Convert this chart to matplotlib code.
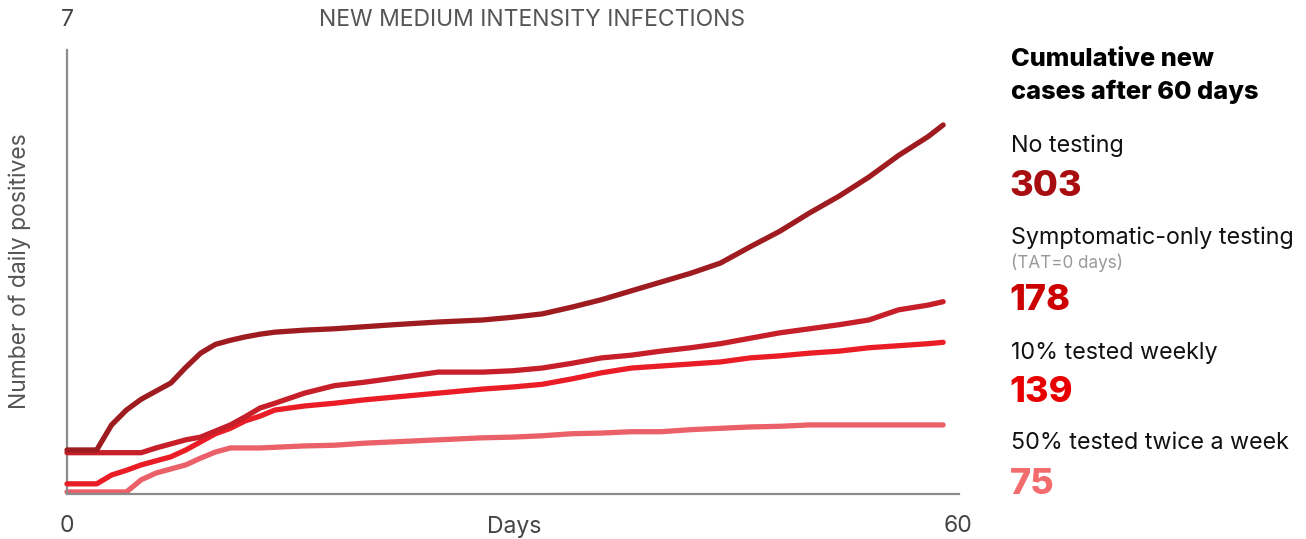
import matplotlib
matplotlib.use("Agg")
import matplotlib.pyplot as plt

plt.rcParams['font.family'] = ['Inter', 'DejaVu Sans']

# Simulated daily positives over 60 days, by testing strategy
days = [0, 2, 3, 4, 5, 6, 7, 8, 9, 10, 11, 12, 13, 14, 16, 18, 20, 22, 25, 28,
        30, 32, 34, 36, 38, 40, 42, 44, 46, 48, 50, 52, 54, 56, 58, 59]

no_testing = [0.65, 0.65, 1.02, 1.24, 1.40, 1.52, 1.64, 1.87, 2.08, 2.21, 2.27, 2.32, 2.36, 2.39,
              2.42, 2.44, 2.47, 2.50, 2.54, 2.57, 2.61, 2.66, 2.76, 2.87, 3.00, 3.13, 3.26, 3.41,
              3.65, 3.88, 4.15, 4.40, 4.68, 5.00, 5.28, 5.45]

symptomatic_only = [0.61, 0.61, 0.61, 0.61, 0.61, 0.68, 0.74, 0.80, 0.84, 0.93, 1.02, 1.14, 1.27,
                    1.34, 1.49, 1.60, 1.65, 1.71, 1.80, 1.80, 1.82, 1.86, 1.93, 2.01, 2.05, 2.11,
                    2.16, 2.22, 2.30, 2.38, 2.44, 2.50, 2.57, 2.72, 2.79, 2.84]

weekly_10pct = [0.15, 0.15, 0.28, 0.35, 0.43, 0.49, 0.55, 0.65, 0.77, 0.89, 0.97, 1.08, 1.15, 1.24,
                1.30, 1.34, 1.39, 1.43, 1.49, 1.55, 1.58, 1.62, 1.70, 1.79, 1.86, 1.89, 1.92, 1.95,
                2.01, 2.04, 2.08, 2.11, 2.16, 2.19, 2.22, 2.24]

twice_weekly_50pct = [0.03, 0.03, 0.03, 0.03, 0.21, 0.31, 0.37, 0.43, 0.53, 0.62, 0.68, 0.68, 0.68,
                      0.69, 0.71, 0.72, 0.75, 0.77, 0.80, 0.83, 0.84, 0.86, 0.89, 0.90, 0.92, 0.92,
                      0.95, 0.97, 0.99, 1.00, 1.02, 1.02, 1.02, 1.02, 1.02, 1.02]

scenario_names = ["No testing", "Symptomatic-only testing", "10% tested weekly",
                  "50% tested twice a week"]
cumulative_cases = ["303", "178", "139", "75"]
line_colors = ["#9e1b20", "#c71f2a", "#ea1d27", "#ea6169"]
number_colors = ["#a80d0f", "#cc0000", "#e80000", "#f26b6d"]

W, H = 1306, 539
fig = plt.figure(figsize=(W / 100, H / 100), dpi=100)

def fx(px):
    return px / W

def fy(py):
    return 1 - py / H

ax_left, ax_right, ax_top, ax_bottom = 67, 958, 20, 494
ax = fig.add_axes([fx(ax_left), fy(ax_bottom), fx(ax_right) - fx(ax_left), fy(ax_top) - fy(ax_bottom)])
ax.set_xlim(0, 60)
ax.set_ylim(0, 7)

series = [no_testing, symptomatic_only, weekly_10pct, twice_weekly_50pct]
for vals, col, z in zip(series[::-1], line_colors[::-1], [2, 3, 4, 5]):
    ax.plot(days, vals, color=col, lw=3.8, solid_capstyle='round', solid_joinstyle='round',
            zorder=z, clip_on=False)

for s in ['top', 'right']:
    ax.spines[s].set_visible(False)
for s in ['left', 'bottom']:
    ax.spines[s].set_color('#8c8c8c')
    ax.spines[s].set_linewidth(1.6)
ax.spines['left'].set_bounds(0, (ax_bottom - 50) / (ax_bottom - ax_top) * 7)
ax.spines['bottom'].set_bounds(0, 60.1)

ax.set_xticks([0, 60])
ax.set_xticklabels(["0", "60"])
ax.tick_params(axis='x', length=0, pad=15, labelsize=16.5, labelcolor='#444444')
ax.set_yticks([])

ax.text(0, 7, "7", ha='center', va='center', fontsize=16.5, color='#444444')
fig.text(fx(514), fy(527), "Days", ha='center', va='center', fontsize=16.5, color='#444444')
fig.text(fx(532), fy(20), "NEW MEDIUM INTENSITY INFECTIONS", ha='center', va='center',
         fontsize=16.5, color='#555555')
fig.text(fx(20), fy(271), "Number of daily positives", ha='center', va='center', rotation=90,
         fontsize=16.5, color='#555555')

# Right-hand summary panel
tx = fx(1011)
fig.text(tx, fy(60), "Cumulative new", ha='left', va='center', fontsize=18.3,
         fontweight='heavy', color='#000000')
fig.text(tx, fy(92), "cases after 60 days", ha='left', va='center', fontsize=18.3,
         fontweight='heavy', color='#000000')

name_y = [146, 238, 353, 443]
num_y = [186, 301, 392, 484]
for name, num, ncol, ny, vy in zip(scenario_names, cumulative_cases, number_colors, name_y, num_y):
    fig.text(tx, fy(ny), name, ha='left', va='center', fontsize=16.8, color='#111111')
    fig.text(tx - 0.001, fy(vy), num, ha='left', va='center', fontsize=26,
             fontweight='heavy', color=ncol)
fig.text(tx, fy(263), "(TAT=0 days)", ha='left', va='center', fontsize=12.3, color='#999999')

fig.savefig("out.png", dpi=100)
